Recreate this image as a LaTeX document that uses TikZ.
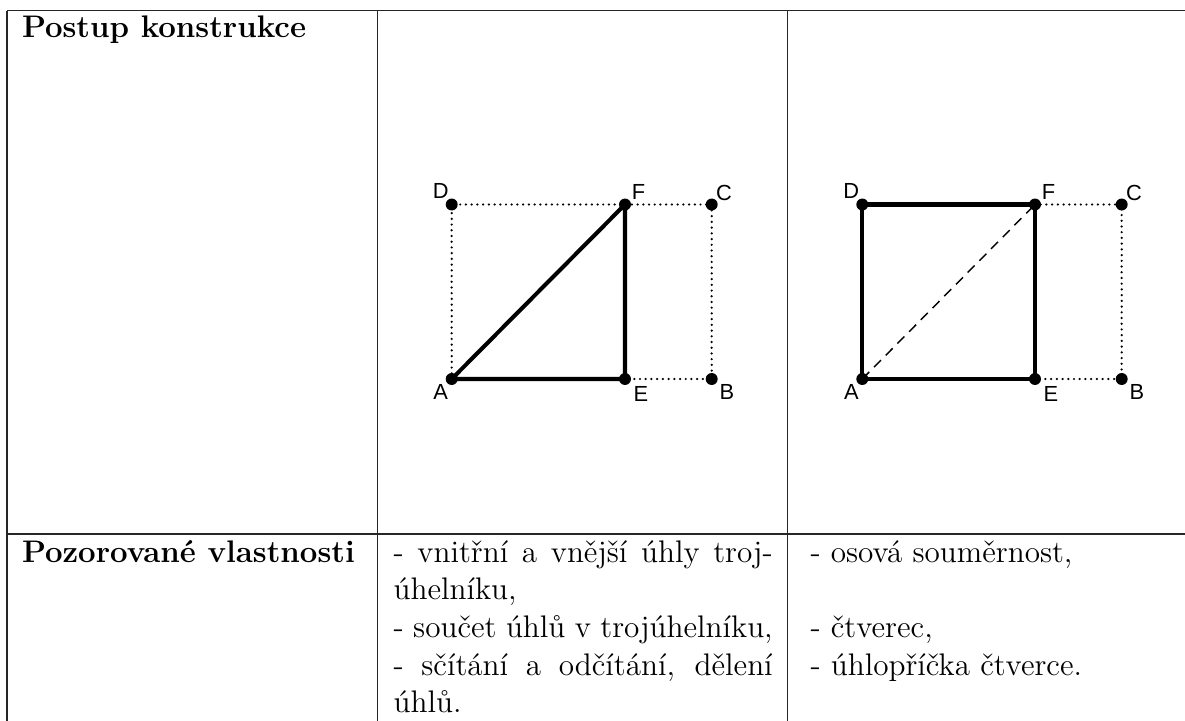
\documentclass[tikz,border=0pt]{standalone}
\usepackage{fontspec}
\newfontfamily\labfont{Liberation Sans}
\usetikzlibrary{calc}
\begin{document}
\begin{tikzpicture}[x=0.3846pt,y=-0.3846pt,
  rule/.style={line width=0.45pt, draw=black!85},
  thickedge/.style={line width=1.55pt, line join=round},
  dotedge/.style={line width=0.95pt, line cap=round, dash pattern=on 0pt off 2.2pt},
  dashedge/.style={line width=0.55pt, dash pattern=on 3.8pt off 2.6pt},
  ptdot/.style={circle, fill=black, inner sep=0pt, minimum size=4.6pt},
  lab/.style={font=\labfont\fontsize{8.4}{10}\selectfont, inner sep=0pt},
  txt/.style={anchor=base west, inner sep=0pt, font=\fontsize{12}{14.5}\selectfont},
  btxt/.style={anchor=base west, inner sep=0pt, font=\fontsize{12}{14.5}\selectfont\bfseries}
]
\useasboundingbox (0,0) rectangle (1185,721);

% table rules
\coordinate (tl) at (7,10.5);
\coordinate (tr) at (1185,10.5);
\coordinate (ml) at (7,534);
\coordinate (mr) at (1185,534);
\coordinate (v1t) at (377.5,10.5);
\coordinate (v1b) at (377.5,721);
\coordinate (v2t) at (787.7,10.5);
\coordinate (v2b) at (787.7,721);
\coordinate (v0b) at (7,721);
\draw[rule] (tl) -- (tr);
\draw[rule] (ml) -- (mr);
\draw[rule] (tl) -- (v0b);
\draw[rule] (v1t) -- (v1b);
\draw[rule] (v2t) -- (v2b);

% texts
\node[btxt] (h1) at (21.5,37.4) {Postup konstrukce};
\node[btxt] (h2) at (21.5,562) {Pozorované vlastnosti};

\node[txt] (t1) at (393.1,562) {\makebox[145.8pt][s]{- vnitřní a vnější úhly troj-}};
\node[txt] (t2) at (393.1,599.7) {úhelníku,};
\node[txt] (t3) at (393.1,637.4) {\makebox[145.8pt][s]{- součet úhlů v trojúhelníku,}};
\node[txt] (t4) at (393.1,675.1) {\makebox[145.8pt][s]{- sčítání a odčítání, dělení}};
\node[txt] (t5) at (393.1,712.8) {úhlů.};

\node[txt] (s1) at (810,562) {- osová souměrnost,};
\node[txt] (s3) at (810,637.4) {- čtverec,};
\node[txt] (s4) at (810,675.1) {- úhlopříčka čtverce.};

% diagram 1
\coordinate (a1) at (451.7,379);
\coordinate (e1) at (625,379);
\coordinate (b1) at (711.7,379);
\coordinate (d1) at (451.7,204.5);
\coordinate (f1) at (625,204.5);
\coordinate (c1) at (711.7,204.5);
\draw[dotedge] (a1) -- (d1) -- (f1) -- (c1) -- (b1) -- (e1);
\draw[thickedge] (a1) -- (e1) -- (f1) -- cycle;
\foreach \p in {a1,e1,b1,d1,f1,c1} \node[ptdot] (n\p) at (\p) {};
\node[lab] (la1) at ($(a1)+(-11,13)$) {A};
\node[lab] (le1) at ($(e1)+(16,14.5)$) {E};
\node[lab] (lb1) at ($(b1)+(15.3,12.5)$) {B};
\node[lab] (ld1) at ($(d1)+(-11,-13.2)$) {D};
\node[lab] (lf1) at ($(f1)+(13.5,-13)$) {F};
\node[lab] (lc1) at ($(c1)+(12.3,-11.3)$) {C};

% diagram 2
\coordinate (a2) at (862.3,379);
\coordinate (e2) at (1035,379);
\coordinate (b2) at (1121.7,379);
\coordinate (d2) at (862.3,204.5);
\coordinate (f2) at (1035,204.5);
\coordinate (c2) at (1121.7,204.5);
\draw[dotedge] (f2) -- (c2) -- (b2) -- (e2);
\draw[dashedge] (a2) -- (f2);
\draw[thickedge] (a2) -- (e2) -- (f2) -- (d2) -- cycle;
\foreach \p in {a2,e2,b2,d2,f2,c2} \node[ptdot] (n\p) at (\p) {};
\node[lab] (la2) at ($(a2)+(-11,13)$) {A};
\node[lab] (le2) at ($(e2)+(16,14.5)$) {E};
\node[lab] (lb2) at ($(b2)+(15.3,12.5)$) {B};
\node[lab] (ld2) at ($(d2)+(-11,-13.2)$) {D};
\node[lab] (lf2) at ($(f2)+(13.5,-13)$) {F};
\node[lab] (lc2) at ($(c2)+(12.3,-11.3)$) {C};
\end{tikzpicture}
\end{document}
